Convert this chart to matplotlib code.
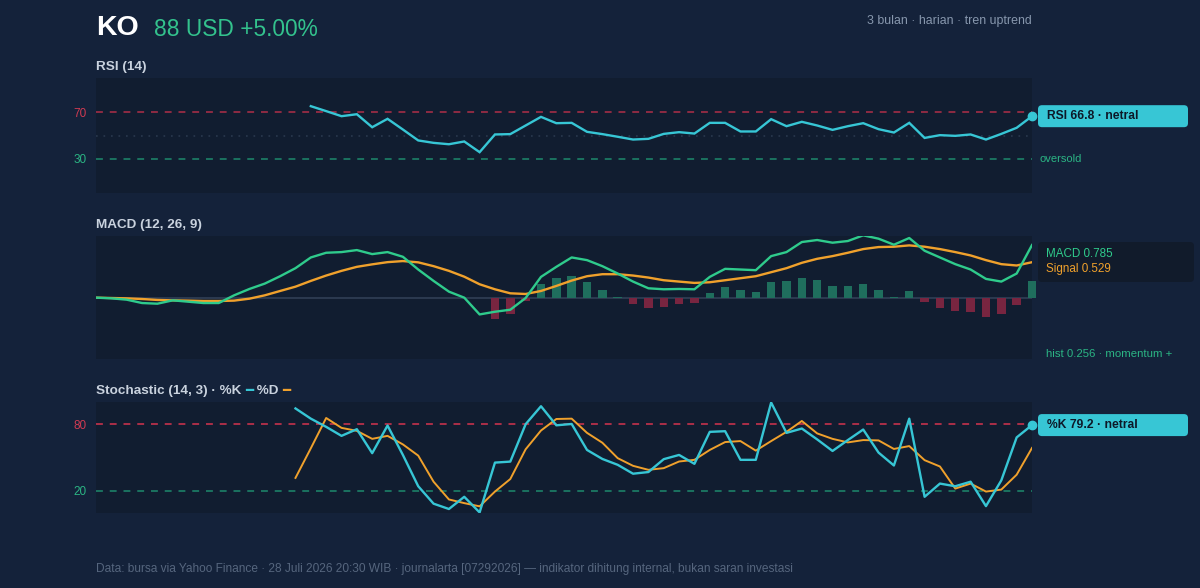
import matplotlib
matplotlib.use("Agg")
import matplotlib.pyplot as plt
from matplotlib.patches import FancyBboxPatch
import numpy as np

# ---------------- data ----------------
ticker = "KO"
price_text = "88 USD +5.00%"
subtitle = "3 bulan · harian · tren uptrend"
footer = ("Data: bursa via Yahoo Finance · 28 Juli 2026 20:30 WIB · journalarta [07292026] "
          "— indikator dihitung internal, bukan saran investasi")

n_days = 62
rsi_values = [None] * 14 + [
    75.5, 71.2, 66.8, 68.5, 57.2, 64.5, 55.2, 45.7, 43.6, 42.4,
    44.8, 35.5, 50.9, 51.2, 58.7, 66.2, 60.7, 61.0, 53.2, 51.2,
    48.9, 46.5, 47.1, 51.4, 52.9, 51.7, 61.0, 61.0, 53.5, 53.5,
    64.2, 58.1, 61.9, 58.7, 54.9, 58.1, 60.7, 55.5, 52.6, 61.0,
    47.9, 50.3, 49.7, 50.9, 46.5, 51.4, 56.7, 66.8]

macd_values = [
    0.00, -0.01, -0.03, -0.08, -0.09, -0.04, -0.06, -0.08, -0.08, 0.035,
    0.13, 0.21, 0.32, 0.44, 0.60, 0.67, 0.68, 0.71, 0.65, 0.68,
    0.61, 0.42, 0.25, 0.09, 0.00, -0.25, -0.21, -0.18, -0.005, 0.31,
    0.46, 0.60, 0.56, 0.47, 0.36, 0.24, 0.14, 0.125, 0.13, 0.125,
    0.31, 0.43, 0.42, 0.41, 0.62, 0.68, 0.83, 0.86, 0.82, 0.845,
    0.93, 0.88, 0.79, 0.89, 0.70, 0.60, 0.50, 0.42, 0.28, 0.24,
    0.36, 0.785]
signal_values = [
    0.00, -0.005, -0.01, -0.02, -0.034, -0.04, -0.044, -0.05, -0.05, -0.044,
    -0.015, 0.035, 0.10, 0.164, 0.25, 0.33, 0.40, 0.46, 0.497, 0.53,
    0.546, 0.527, 0.47, 0.40, 0.313, 0.20, 0.125, 0.065, 0.055, 0.10,
    0.175, 0.255, 0.32, 0.35, 0.35, 0.33, 0.30, 0.26, 0.24, 0.22,
    0.23, 0.26, 0.29, 0.32, 0.38, 0.44, 0.52, 0.58, 0.62, 0.67,
    0.725, 0.755, 0.76, 0.78, 0.76, 0.725, 0.68, 0.63, 0.56, 0.50,
    0.48, 0.529]
hist_values = [None] * 26 + [
    -0.32, -0.24, -0.045, 0.20, 0.29, 0.33, 0.235, 0.115, 0.01, -0.10,
    -0.155, -0.135, -0.10, -0.085, 0.07, 0.16, 0.12, 0.085, 0.24, 0.25,
    0.30, 0.27, 0.18, 0.17, 0.20, 0.12, 0.015, 0.105, -0.07, -0.15,
    -0.20, -0.22, -0.29, -0.25, -0.105, 0.256]

stoch_k = [None] * 13 + [
    94.2, 85.0, 77.6, 69.5, 75.5, 53.9, 78.8, 52.3, 24.1, 8.4,
    3.6, 14.6, 0.5, 45.4, 46.3, 80.0, 96.2, 79.0, 80.2, 56.8,
    48.7, 43.4, 35.4, 36.9, 48.5, 52.3, 44.3, 73.1, 73.7, 47.9,
    47.9, 99.5, 72.2, 76.1, 66.3, 55.9, 65.7, 75.2, 54.4, 42.8,
    85.0, 14.6, 26.5, 24.1, 28.2, 6.2, 29.4, 68.1, 79.2]
stoch_d = [None] * 13 + [
    31.6, 58.3, 85.6, 76.7, 74.0, 66.8, 69.5, 61.8, 51.7, 28.2,
    12.2, 8.9, 6.0, 19.3, 30.6, 57.4, 74.3, 84.7, 85.0, 72.2,
    63.3, 49.4, 42.5, 38.9, 40.4, 46.4, 47.9, 56.8, 63.9, 64.8,
    56.2, 64.8, 73.1, 82.9, 71.7, 66.8, 63.6, 65.7, 65.4, 57.7,
    60.3, 47.6, 41.9, 22.0, 26.5, 19.3, 21.1, 34.5, 58.6]

rsi_levels = [30, 70]
stoch_levels = [20, 80]

# ---------------- style ----------------
BG = "#14223a"
PANEL = "#111d30"
CYAN = "#37c6d5"
GREEN = "#2fcb8c"
ORANGE = "#f0a12c"
RED_LINE = "#b02f48"
RED_LINE2 = "#d5344f"
GREEN_LINE = "#1d8a6d"
TXT = "#c9d2de"
GRAY = "#8797ad"
FOOT = "#56667e"
BAR_G = "#1f6e5d"
BAR_R = "#782540"
FONT = "Liberation Sans"

plt.rcParams["font.family"] = [FONT, "DejaVu Sans"]

W, H = 1200, 588
fig = plt.figure(figsize=(W / 100, H / 100), dpi=100, facecolor=BG)


def ax_at(x0, y0, x1, y1):
    a = fig.add_axes([x0 / W, 1 - y1 / H, (x1 - x0) / W, (y1 - y0) / H])
    a.set_facecolor(PANEL)
    for s in a.spines.values():
        s.set_visible(False)
    a.tick_params(length=0)
    a.set_xticks([])
    return a


def ftext(x, y, s, **kw):
    return fig.text(x / W, 1 - y / H, s, **kw)


x = np.arange(n_days)


def arr(v):
    return np.array([np.nan if a is None else a for a in v], dtype=float)


# ---------------- header ----------------
ftext(96, 28, ticker, fontsize=20.5, fontweight="bold", color="white", va="center")
ftext(154, 30, price_text, fontsize=16.4, color="#33c28d", va="center")
ftext(1032, 21, subtitle, fontsize=8.9, color=GRAY, ha="right", va="center")

# ---------------- RSI ----------------
ax1 = ax_at(96, 78, 1032, 193)
ax1.set_xlim(0, n_days - 1)
ax1.set_ylim(0, 100)
rsi = arr(rsi_values)
ax1.axhline(rsi_levels[1], color=RED_LINE, lw=1.1, ls=(0, (4.5, 4.5)))
ax1.axhline(rsi_levels[0], color=GREEN_LINE, lw=1.1, ls=(0, (4.5, 4.5)))
ax1.axhline(50, color="#2a384d", lw=1.2, ls=(0, (1, 3.5)))
ax1.plot(x, rsi, color=CYAN, lw=1.7, solid_joinstyle="miter")
last_i = n_days - 1
ax1.plot([last_i], [rsi[last_i]], "o", color=CYAN, ms=6, clip_on=False)
ax1.set_yticks(rsi_levels)
ax1.set_yticklabels([str(v) for v in rsi_levels], fontsize=8.5)
ax1.get_yticklabels()[0].set_color("#2bb584")
ax1.get_yticklabels()[1].set_color("#d03a52")
ax1.tick_params(axis="y", pad=7)
ftext(96, 67, "RSI (14)", fontsize=9.7, fontweight="bold", color=TXT, va="center")

# ---------------- MACD ----------------
ax2 = ax_at(96, 236, 1032, 359)
ax2.set_xlim(0, n_days - 1)
ax2.set_ylim(-0.915, 0.92)
ax2.set_yticks([])
ax2.axhline(0, color="#2c3a50", lw=1.4)
hist = arr(hist_values)
hcol = [BAR_G if (not np.isnan(h) and h >= 0) else BAR_R for h in hist]
ax2.bar(x, np.nan_to_num(hist), width=0.55, color=hcol, clip_on=False, zorder=2)
ax2.plot(x, arr(signal_values), color=ORANGE, lw=1.7, zorder=3)
ax2.plot(x, arr(macd_values), color=GREEN, lw=1.7, zorder=4)
ftext(96, 225, "MACD (12, 26, 9)", fontsize=9.7, fontweight="bold", color=TXT, va="center")

# ---------------- Stochastic ----------------
ax3 = ax_at(96, 402, 1032, 513)
ax3.set_xlim(0, n_days - 1)
ax3.set_ylim(0, 100)
ax3.axhline(stoch_levels[1], color=RED_LINE2, lw=1.1, ls=(0, (4.5, 4.5)))
ax3.axhline(stoch_levels[0], color=GREEN_LINE, lw=1.1, ls=(0, (4.5, 4.5)))
k = arr(stoch_k)
ax3.plot(x, arr(stoch_d), color=ORANGE, lw=1.4)
ax3.plot(x, k, color=CYAN, lw=1.7)
ax3.plot([last_i], [k[last_i]], "o", color=CYAN, ms=6, clip_on=False)
ax3.set_yticks(stoch_levels)
ax3.set_yticklabels([str(v) for v in stoch_levels], fontsize=8.5)
ax3.get_yticklabels()[0].set_color("#2bb584")
ax3.get_yticklabels()[1].set_color("#d03a52")
ax3.tick_params(axis="y", pad=7)

# composite stochastic title
renderer = fig.canvas.get_renderer()
parts = [("Stochastic (14, 3) · %K ", TXT), ("━", CYAN), (" %D ", TXT), ("━", ORANGE)]
cx = 96
for s, c in parts:
    t = ftext(cx, 391, s, fontsize=9.7, fontweight="bold", color=c, va="center")
    bb = t.get_window_extent(renderer)
    cx += bb.width

# ---------------- right side tags ----------------
def tag(ax, yv, text):
    xd, yd = ax.transData.transform((n_days - 1, yv))
    patch = FancyBboxPatch((1038 / 100, (yd - 11) / 100), 150 / 100, 22 / 100,
                           boxstyle="round,pad=0,rounding_size=0.04",
                           transform=fig.dpi_scale_trans, fc=CYAN, ec="none")
    fig.patches.append(patch)
    fig.text(1047 / W, yd / H, text, fontsize=8.7, fontweight="bold",
             color="#0d1828", va="center", ha="left")


tag(ax1, rsi[last_i], f"RSI {rsi_values[-1]:.1f} · netral")
tag(ax3, k[last_i], f"%K {stoch_k[-1]:.1f} · netral")

_, y30 = ax1.transData.transform((0, rsi_levels[0]))
fig.text(1040 / W, y30 / H, "oversold", fontsize=8, color="#2bb584", va="center")

mbox = FancyBboxPatch((1038 / 100, (H - 282) / 100), 156 / 100, 40 / 100,
                      boxstyle="round,pad=0,rounding_size=0.04",
                      transform=fig.dpi_scale_trans, fc="#111b2b", ec="none")
fig.patches.append(mbox)
ftext(1046, 254, f"MACD {macd_values[-1]:.3f}", fontsize=8.4, color=GREEN, va="center")
ftext(1046, 269, f"Signal {signal_values[-1]:.3f}", fontsize=8.4, color=ORANGE, va="center")
ftext(1046, 354, f"hist {hist_values[-1]:.3f} · momentum +", fontsize=8.2, color="#2bb584", va="center")

# ---------------- footer ----------------
ftext(96, 569, footer, fontsize=8.6, color=FOOT, va="center")

fig.savefig("out.png", dpi=100, facecolor=BG)
